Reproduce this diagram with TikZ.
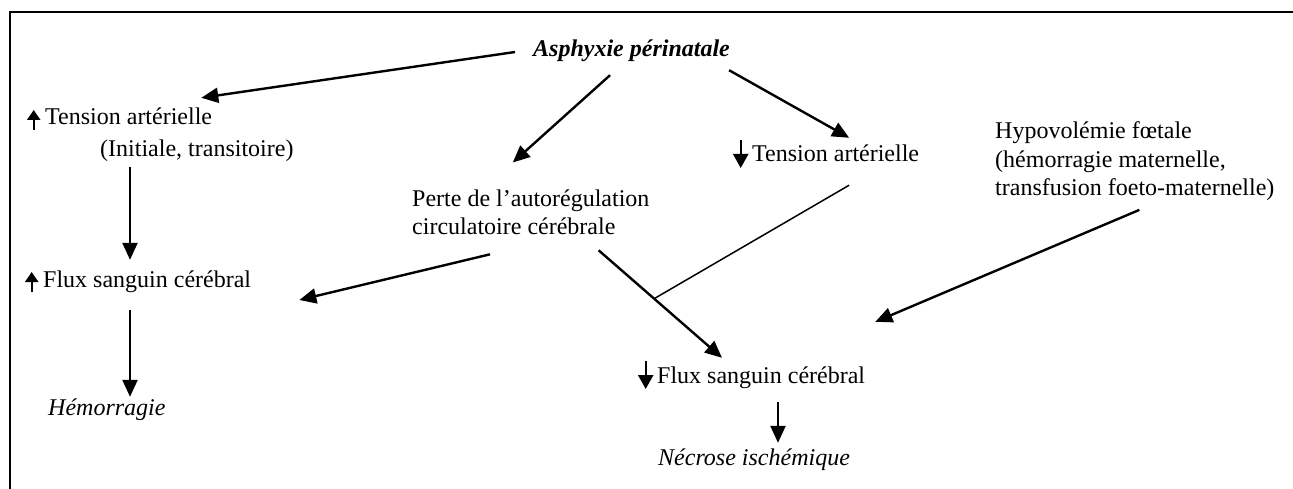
\documentclass[tikz,border=0pt]{standalone}
\usepackage{fontspec}
\setmainfont{Liberation Serif}
\usetikzlibrary{arrows.meta}
\newcommand{\hausse}{\tikz[baseline=0pt]\draw[line width=2.4pt,-{Triangle[length=10pt,width=13pt]}] (0pt,-5pt) -- (0pt,15pt);\hspace{5pt}}
\newcommand{\baisse}{\tikz[baseline=0pt]\draw[line width=2.4pt,-{Triangle[length=14pt,width=15pt]}] (0pt,22pt) -- (0pt,-6pt);\hspace{4pt}}

\begin{document}
\begin{tikzpicture}[x=1pt,y=-1pt,font=\fontsize{24}{28.5}\selectfont,
    every node/.style={inner sep=0pt},
    ligne/.style={anchor=base west,text height=17pt,text depth=5pt},
    bloc/.style={anchor=north west,align=left},
    fleche/.style={line width=2.4pt,-{Triangle[length=17pt,width=15pt]}},
    trait/.style={line width=1.5pt},
    cadre/.style={line width=2.4pt}]
    \useasboundingbox (0,0) rectangle (1293,489);
    \draw[cadre] (1295,12) -- (10,12) -- (10,491);
    \node[ligne] (asph) at (533,57) {\textbf{\textit{Asphyxie périnatale}}};
    \node[ligne] (tah) at (27,125) {\hausse Tension artérielle};
    \node[ligne] (tahsub) at (100,157) {(Initiale, transitoire)};
    \node[ligne] (fah) at (25,287) {\hausse Flux sanguin cérébral};
    \node[ligne] (hemo) at (48,415) {\textit{Hémorragie}};
    \node[bloc] (perte) at (412,189.5) {Perte de l’autorégulation\\circulatoire cérébrale};
    \node[ligne] (tab) at (733,162) {\baisse Tension artérielle};
    \node[bloc] (hypo) at (995,121.5) {Hypovolémie fœtale\\(hémorragie maternelle,\\transfusion foeto-maternelle)};
    \node[ligne] (fab) at (638,383) {\baisse Flux sanguin cérébral};
    \node[ligne] (necr) at (658,465) {\textit{Nécrose ischémique}};
    \draw[fleche] ([shift={(-18,1)}]asph.west) -- ([shift={(-11,-10)}]tah.north east);
    \draw[fleche] ([shift={(-21.5,13)}]asph.south) -- ([shift={(-18,-27)}]perte.north);
    \draw[fleche] ([shift={(-1,8)}]asph.south east) -- ([shift={(23,-7)}]tab.north);
    \draw[fleche] ([shift={(30,5)}]tahsub.south west) -- ([shift={(105,-10)}]fah.north west);
    \draw[fleche] ([shift={(105,18)}]fah.south west) -- ([shift={(82,-1)}]hemo.north west);
    \draw[fleche] ([shift={(78,19)}]perte.south west) -- ([shift={(48,19)}]fah.east);
    \draw[fleche] ([shift={(-51,15)}]perte.south east) -- coordinate[pos=0.45] (jonction) ([shift={(84,-8)}]fab.north west);
    \draw[trait] ([shift={(23,18)}]tab.south) -- (jonction);
    \draw[fleche] ([shift={(4.5,9)}]hypo.south) -- ([shift={(10,-44)}]fab.north east);
    \draw[fleche] ([shift={(140,14)}]fab.south west) -- ([shift={(120,-5)}]necr.north west);
\end{tikzpicture}
\end{document}
